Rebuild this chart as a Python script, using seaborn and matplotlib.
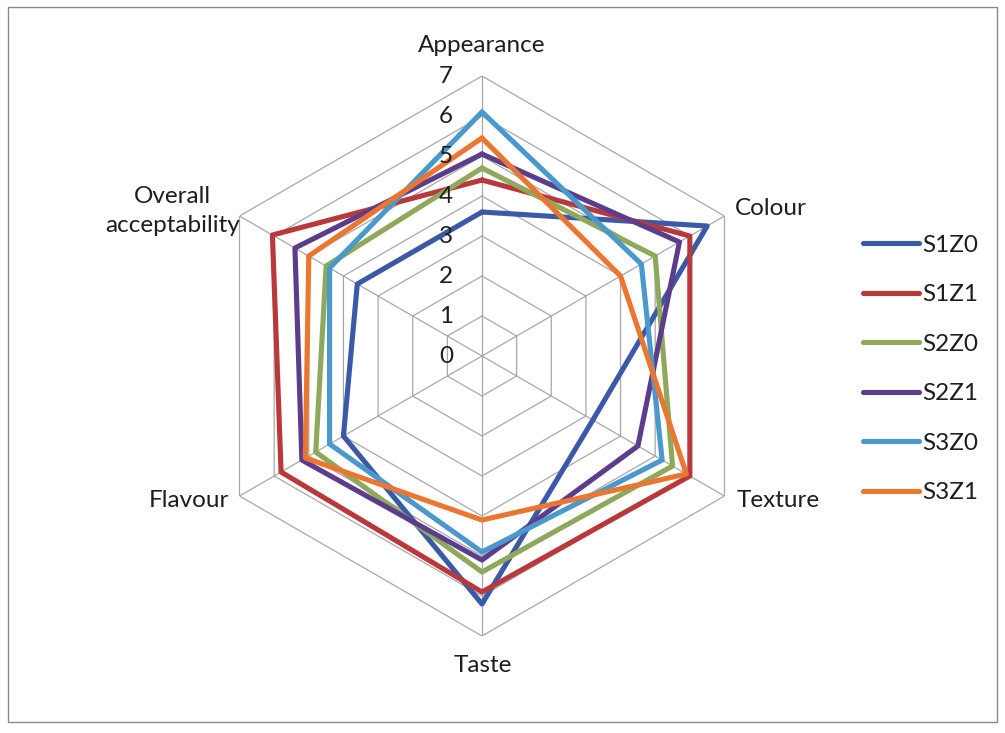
import numpy as np
import pandas as pd
import matplotlib
matplotlib.use("Agg")
import matplotlib.pyplot as plt
from matplotlib.patches import Rectangle
import seaborn as sns

# Sensory attributes (clockwise from the top)
attributes = ["Appearance", "Colour", "Texture", "Taste", "Flavour", "Overall\nacceptability"]

# Mean sensory scores per sample
S1Z0 = [3.6, 6.5, 3.2, 6.2, 4.0, 3.6]
S1Z1 = [4.4, 6.0, 6.0, 5.9, 5.8, 6.05]
S2Z0 = [4.7, 5.0, 5.5, 5.4, 4.8, 4.5]
S2Z1 = [5.05, 5.7, 4.5, 5.1, 5.2, 5.4]
S3Z0 = [6.1, 4.6, 5.2, 4.9, 4.4, 4.4]
S3Z1 = [5.45, 4.0, 5.9, 4.1, 5.1, 5.0]

series_names = ["S1Z0", "S1Z1", "S2Z0", "S2Z1", "S3Z0", "S3Z1"]
series_values = [S1Z0, S1Z1, S2Z0, S2Z1, S3Z0, S3Z1]
series_colors = ["#3a5aa8", "#b8393b", "#8fa85b", "#5c3d8c", "#4a98cc", "#ea7631"]

scale_ticks = [0, 1, 2, 3, 4, 5, 6, 7]

sns.set_theme(style="white")
plt.rcParams["font.family"] = ["Lato", "DejaVu Sans"]

n = len(attributes)
angles = np.arange(n) * 2 * np.pi / n

# Long-form table, each polygon closed by repeating its first vertex
rows = []
for name, vals in zip(series_names, series_values):
    for i in range(n + 1):
        k = i % n
        rows.append({"series": name, "theta": i * 2 * np.pi / n, "score": vals[k], "order": i})
df = pd.DataFrame(rows)

fig = plt.figure(figsize=(10.05, 7.33), dpi=100)
ax = fig.add_axes([0.2010, 0.1323, 0.5572, 0.764], projection="polar")
ax.set_theta_offset(np.pi / 2)
ax.set_theta_direction(-1)
ax.set_ylim(0, 7)
ax.grid(False)
ax.spines["polar"].set_visible(False)
ax.set_xticks([])
ax.set_yticks([])
ax.patch.set_alpha(0)

grid_color = "#a8a8a8"
# Hexagonal rings
for r in scale_ticks[1:]:
    ax.plot(np.append(angles, angles[0]), [r] * (n + 1), color=grid_color, lw=0.9, zorder=1)
# Spokes
for a in angles:
    ax.plot([a, a], [0, scale_ticks[-1]], color=grid_color, lw=0.9, zorder=1)

sns.lineplot(data=df, x="theta", y="score", hue="series", palette=series_colors,
             sort=False, estimator=None, units="series", lw=3.7, ax=ax, zorder=3)
ax.set_xlabel("")
ax.set_ylabel("")
handles, labels = ax.get_legend_handles_labels()
if ax.get_legend() is not None:
    ax.get_legend().remove()

fs = 17.5
text_color = "#1e1e1e"
# Scale labels along the top spoke
for r in scale_ticks:
    ax.annotate(str(r), xy=(0, r), xytext=(-29, 0), textcoords="offset pixels",
                ha="right", va="center", fontsize=fs, color=text_color)

# Attribute labels
label_offsets = [(0, 31), (46, 8), (54, -4), (1, -29), (-51, -4), (-67, 5)]
for a, lab, off in zip(angles, attributes, label_offsets):
    ax.annotate(lab, xy=(a, 7), xytext=off, textcoords="offset pixels",
                ha="center", va="center", fontsize=fs, color=text_color,
                multialignment="center", linespacing=1.45)

leg = fig.legend(handles, labels, loc="upper left", bbox_to_anchor=(0.849, 0.693),
                 frameon=False, fontsize=fs, handlelength=2.3, handletextpad=0.15,
                 labelspacing=1.17, borderaxespad=0)
for h in leg.get_lines():
    h.set_linewidth(3.7)
for t in leg.get_texts():
    t.set_color(text_color)

fig.patches.append(Rectangle((0.008, 0.015), 0.984, 0.976, transform=fig.transFigure,
                             fill=False, edgecolor="#8a8a8a", lw=1.0))

fig.savefig("out.png", dpi=100)
